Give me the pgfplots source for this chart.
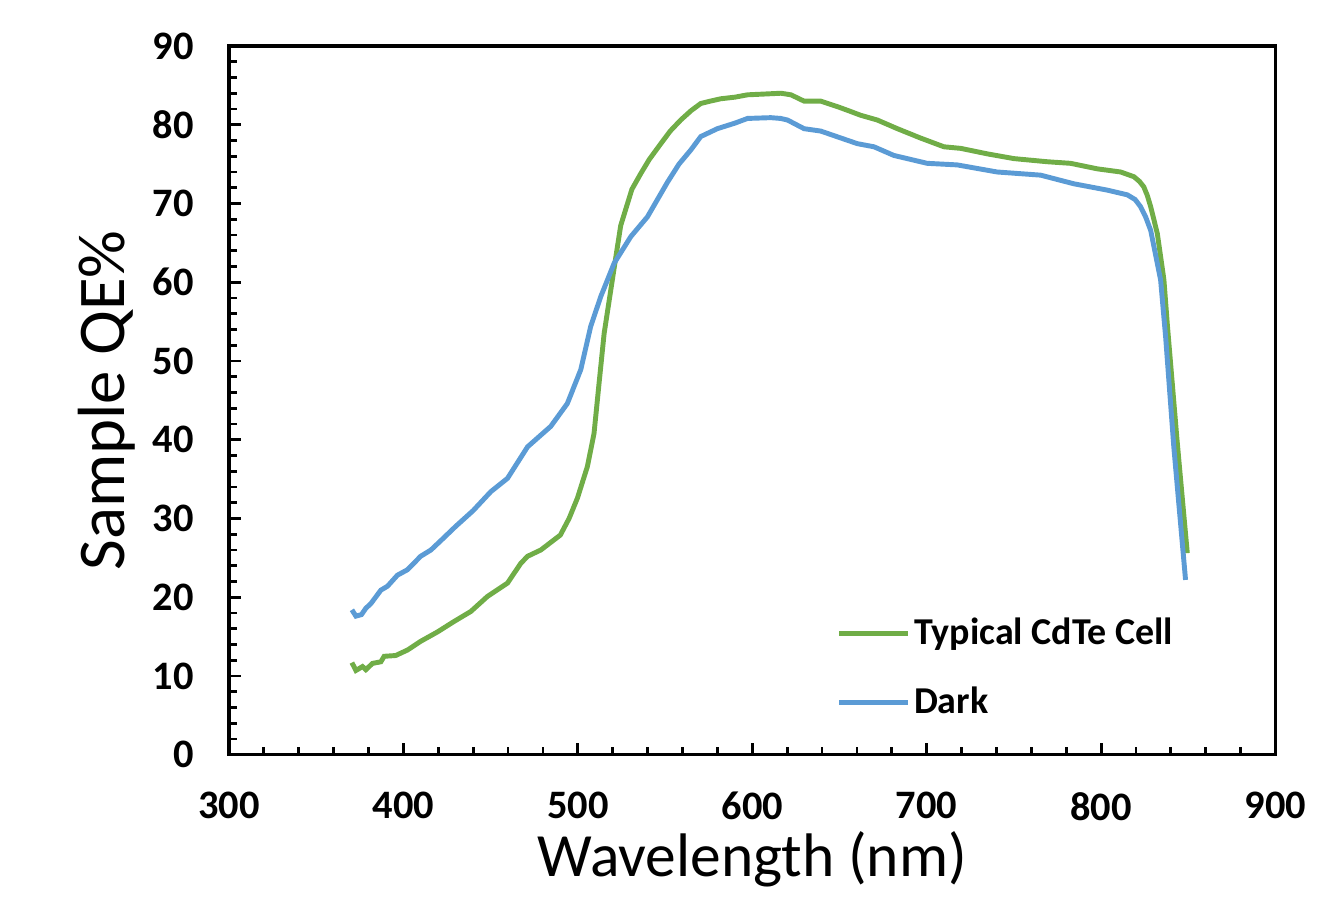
\documentclass[border=0pt]{standalone}
\usepackage{pgfplots}
\pgfplotsset{compat=1.18}
\usepackage{fontspec}
\setmainfont{Carlito}
\definecolor{cdgreen}{RGB}{112,173,71}
\definecolor{cdblue}{RGB}{91,155,213}

\pgfplotstableread{
x y
370.5 11.7
372.8 10.7
376.6 11.2
378.5 10.8
382.3 11.6
387.1 11.8
389.0 12.5
395.6 12.6
402.4 13.3
409.9 14.4
419.6 15.6
428.9 16.9
438.7 18.2
448.2 20.1
459.7 21.8
467.3 24.3
471.2 25.2
478.8 26.0
490.0 27.9
495.0 30.0
499.8 32.6
505.5 36.6
509.3 40.8
512.2 47.2
515.1 53.5
518.9 59.0
521.8 63.2
524.6 67.2
528.5 70.0
531.0 71.8
536.1 73.8
541.0 75.6
547.6 77.6
553.0 79.2
559.0 80.6
565.0 81.8
570.5 82.7
576.0 83.0
582.0 83.3
590.0 83.5
597.3 83.8
607.0 83.9
616.5 84.0
622.2 83.8
629.7 83.0
639.2 83.0
648.8 82.3
655.0 81.8
662.2 81.2
671.7 80.6
683.2 79.5
696.6 78.3
709.9 77.2
719.5 77.0
734.8 76.3
750.0 75.7
769.2 75.3
782.5 75.1
797.8 74.4
811.2 74.0
818.8 73.4
822.0 72.8
824.5 72.1
826.5 71.0
828.4 69.6
832.2 66.2
836.0 60.3
838.0 54.5
843.5 40.0
849.4 25.6
}\cdte

\pgfplotstableread{
x y
370.5 18.4
372.8 17.6
376.0 17.8
378.5 18.6
381.4 19.2
387.1 20.9
390.9 21.4
396.6 22.8
402.4 23.5
409.9 25.2
415.8 26.0
422.0 27.3
430.0 29.0
440.0 31.0
450.1 33.4
459.7 35.1
471.2 39.1
484.5 41.7
494.0 44.6
501.7 48.9
507.4 54.4
513.2 58.2
520.8 62.4
530.4 65.8
539.9 68.3
551.4 72.7
558.0 75.0
564.8 76.8
570.5 78.5
580.0 79.5
590.0 80.2
597.3 80.8
610.6 80.9
616.3 80.8
620.2 80.6
629.7 79.5
639.2 79.2
660.2 77.6
669.8 77.2
681.2 76.1
700.3 75.1
717.5 74.9
740.4 74.0
765.3 73.6
784.4 72.5
803.5 71.7
815.0 71.1
819.5 70.5
822.6 69.6
825.5 68.3
828.4 66.6
834.1 60.3
837.0 53.0
841.7 39.0
848.4 22.2
}\dark

\begin{document}
\begin{tikzpicture}
\path (-2.29,-1.44) rectangle (10.89,7.55);
\begin{axis}[
  at={(0,0)}, anchor=south west, scale only axis,
  width=10.47cm, height=7.09cm,
  xmin=300, xmax=900, ymin=0, ymax=90,
  xtick distance=100, ytick distance=10,
  minor x tick num=4, minor y tick num=4,
  tick align=inside, tick pos=left,
  major tick length=0.12cm, minor tick length=0.08cm,
  axis line style={line width=1pt, black},
  every tick/.style={black, line width=0.8pt},
  /pgf/number format/assume math mode=true,
  ticklabel style={font=\fontsize{11.5}{13}\selectfont\bfseries},
  xticklabel style={yshift=-0.25cm},
  yticklabel style={xshift=-0.23cm},
  xlabel={Wavelength (nm)},
  xlabel style={font=\fontsize{17.5}{20}\selectfont, at={(axis description cs:0.5,-0.148)}, anchor=center},
  ylabel={Sample QE\%},
  ylabel style={font=\fontsize{19}{22}\selectfont, at={(axis description cs:-0.1165,0.5)}, anchor=center},
  legend cell align=left,
  legend style={draw=none, fill=none, at={(axis description cs:0.58,0.122)}, anchor=west,
    font=\fontsize{10.8}{13}\selectfont\bfseries, row sep=0.30cm, inner sep=0pt,
    nodes={inner sep=1pt}},
  legend image code/.code={\draw[#1] (0cm,0cm) -- (0.69cm,0cm);},
]
\addplot[cdgreen, line width=1.4pt] table[x=x,y=y] {\cdte};
\addlegendentry{Typical CdTe Cell}
\addplot[cdblue, line width=1.4pt] table[x=x,y=y] {\dark};
\addlegendentry{Dark}
\end{axis}
\end{tikzpicture}
\end{document}
